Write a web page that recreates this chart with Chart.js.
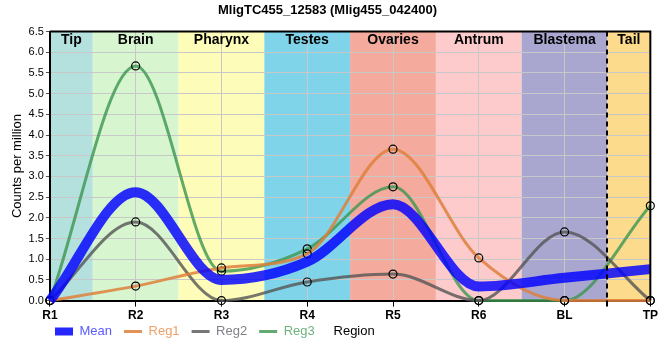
<!DOCTYPE html>
<html>
<head>
<meta charset="utf-8">
<script src="https://cdn.jsdelivr.net/npm/chart.js@4"></script>
<style>
  body { margin: 0; background: #fff; }
  #wrap { width: 660px; height: 360px; }
</style>
</head>
<body>
<div id="wrap"><canvas id="myChart"></canvas></div>
<script>
// Regions along the x axis
const regions = ['R1', 'R2', 'R3', 'R4', 'R5', 'R6', 'BL', 'TP'];

// Series values (counts per million)
const meanVals = [0, 2.62, 0.50, 0.94, 2.33, 0.34, 0.55, 0.76];
const reg1Vals = [0, 0.35, 0.79, 1.13, 3.66, 1.03, 0, 0];
const reg2Vals = [0, 1.90, 0, 0.45, 0.64, 0, 1.66, 0];
const reg3Vals = [0, 5.67, 0.71, 1.25, 2.75, 0, 0, 2.29];

// Tissue bands (start/end as category index)
const bandNames = ['Tip', 'Brain', 'Pharynx', 'Testes', 'Ovaries', 'Antrum', 'Blastema', 'Tail'];
const bandStart = [0, 0.5, 1.5, 2.5, 3.5, 4.5, 5.5, 6.5];
const bandEnd = [0.5, 1.5, 2.5, 3.5, 4.5, 5.5, 6.5, 7];
const bandColors = ['#b4e1de', '#d7f5cf', '#fdfdb9', '#7fd4ea', '#f4aa9d', '#fdcbcc', '#a9a7cf', '#fddb8d'];

const FONT = "'Liberation Sans', Arial, sans-serif";

// Background bands, labels, borders, dashed line
const bandPlugin = {
    id: 'bands',
    afterLayout(chart) {
        // pull the legend in so it starts under R1
        chart.legend.left = 43;
        chart.legend.top -= 12;
    },
    beforeDraw(chart) {
        const ctx = chart.ctx;
        const a = chart.chartArea;
        const x = chart.scales.x;
        ctx.save();
        for (let i = 0; i < bandNames.length; i++) {
            const x1 = x.getPixelForValue(bandStart[i]);
            const x2 = x.getPixelForValue(bandEnd[i]);
            ctx.fillStyle = bandColors[i];
            ctx.fillRect(x1, a.top, x2 - x1, a.bottom - a.top);
        }
        ctx.restore();
    },
    beforeDatasetsDraw(chart) {
        const ctx = chart.ctx;
        const a = chart.chartArea;
        const x = chart.scales.x;
        ctx.save();
        ctx.font = 'bold 14px ' + FONT;
        ctx.fillStyle = '#000';
        ctx.textAlign = 'center';
        ctx.textBaseline = 'middle';
        for (let i = 0; i < bandNames.length; i++) {
            const x1 = x.getPixelForValue(bandStart[i]);
            const x2 = x.getPixelForValue(bandEnd[i]);
            ctx.fillText(bandNames[i], (x1 + x2) / 2, a.top + 9);
        }
        ctx.restore();
    },
    afterDraw(chart) {
        const ctx = chart.ctx;
        const a = chart.chartArea;
        const x = chart.scales.x;
        ctx.save();
        // top and right border
        ctx.strokeStyle = '#000';
        ctx.lineWidth = 2;
        ctx.beginPath();
        ctx.moveTo(a.left, a.top);
        ctx.lineTo(a.right, a.top);
        ctx.lineTo(a.right, a.bottom);
        ctx.stroke();
        // dashed divider between BL and TP
        const dx = Math.round(x.getPixelForValue(6.5));
        ctx.setLineDash([5, 4]);
        ctx.beginPath();
        ctx.moveTo(dx, a.top);
        ctx.lineTo(dx, a.bottom);
        ctx.stroke();
        ctx.setLineDash([]);
        ctx.beginPath();
        ctx.moveTo(dx, a.bottom);
        ctx.lineTo(dx, a.bottom + 6);
        ctx.stroke();
        // x axis title on the legend row
        const lg = chart.legend;
        ctx.font = '13px ' + FONT;
        ctx.fillStyle = '#000';
        ctx.textAlign = 'center';
        ctx.textBaseline = 'middle';
        ctx.fillText('Region', (a.left + a.right) / 2 + 4, lg.top + 12 + 6.5);
        ctx.restore();
    }
};

const legendText = ['#5b5bff', '#eda06a', '#808088', '#6fb27f'];

// hollow black markers on the region lines
const pointStyle = {
    pointRadius: 4,
    pointBorderColor: '#000',
    pointBorderWidth: 1.2,
    pointBackgroundColor: 'rgba(0,0,0,0)'
};

let ctx = document.getElementById('myChart');
let myChart = new Chart(ctx, {
    type: 'line',
    data: {
        labels: regions,
        datasets: [
            { label: 'Mean', data: meanVals, borderColor: 'rgba(0,0,255,0.82)', borderWidth: 10, pointRadius: 0 },
            Object.assign({ label: 'Reg1', data: reg1Vals, borderColor: 'rgba(222,128,60,0.85)', borderWidth: 3 }, pointStyle),
            Object.assign({ label: 'Reg2', data: reg2Vals, borderColor: 'rgba(85,85,85,0.8)', borderWidth: 3 }, pointStyle),
            Object.assign({ label: 'Reg3', data: reg3Vals, borderColor: 'rgba(60,150,80,0.8)', borderWidth: 3 }, pointStyle)
        ]
    },
    options: {
        responsive: true,
        maintainAspectRatio: false,
        animation: false,
        layout: { padding: { left: 4, right: 9, top: 0, bottom: 0 } },
        elements: {
            line: { cubicInterpolationMode: 'monotone', fill: false }
        },
        datasets: { line: { clip: false } },
        plugins: {
            title: {
                display: true,
                text: 'MligTC455_12583 (Mlig455_042400)',
                color: '#000',
                font: { family: FONT, size: 13, weight: 'bold' },
                padding: { top: 3, bottom: 13 }
            },
            legend: {
                position: 'bottom',
                align: 'start',
                labels: {
                    font: { family: FONT, size: 13 },
                    padding: 12,
                    usePointStyle: true,
                    pointStyleWidth: 18,
                    boxHeight: 8,
                    generateLabels(chart) {
                        return chart.data.datasets.map((ds, i) => ({
                            text: ds.label,
                            datasetIndex: i,
                            fillStyle: i === 0 ? 'rgba(0,0,255,0.85)' : ds.borderColor,
                            strokeStyle: i === 0 ? 'rgba(0,0,255,0.85)' : ds.borderColor,
                            lineWidth: i === 0 ? 0 : 3,
                            pointStyle: i === 0 ? 'rect' : 'line',
                            fontColor: legendText[i],
                            hidden: false
                        }));
                    }
                }
            },
            tooltip: { enabled: false }
        },
        scales: {
            x: {
                offset: false,
                grid: { color: '#c8c8c8', tickColor: '#000', tickLength: 6 },
                border: { color: '#000', width: 2 },
                ticks: { color: '#000', font: { family: FONT, size: 12, weight: 'bold' }, padding: 2, maxRotation: 0 }
            },
            y: {
                min: 0,
                max: 6.5,
                grid: { color: '#c8c8c8', tickColor: '#555', tickLength: 4 },
                border: { color: '#000', width: 2 },
                ticks: {
                    stepSize: 0.5,
                    color: '#000',
                    font: { family: FONT, size: 11 },
                    padding: 2,
                    callback: v => v.toFixed(1)
                },
                title: {
                    display: true,
                    text: 'Counts per million',
                    color: '#000',
                    font: { family: FONT, size: 13 },
                    padding: { top: 6, bottom: 1 }
                }
            }
        }
    },
    plugins: [bandPlugin]
});
</script>
</body>
</html>
